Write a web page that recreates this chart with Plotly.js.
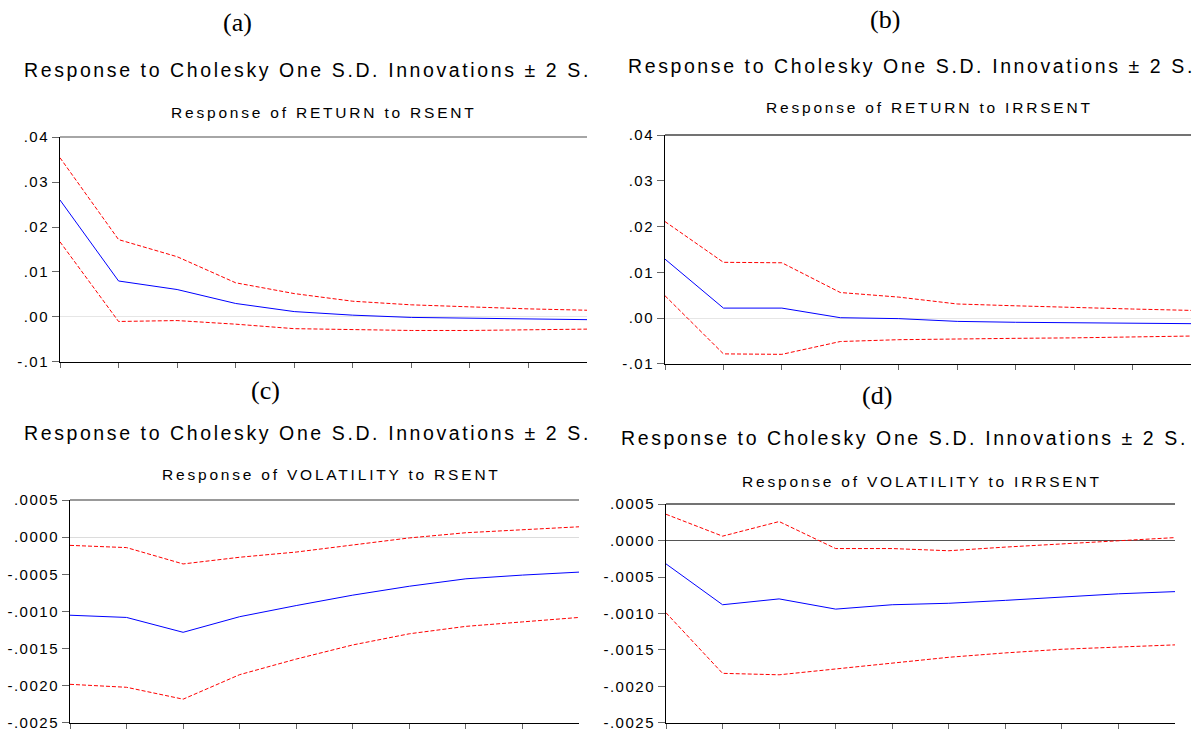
<!DOCTYPE html>
<html>
<head>
<meta charset="utf-8">
<script src="https://cdn.plot.ly/plotly-3.0.1.min.js"></script>
<style>html,body{margin:0;padding:0;background:#fff;}#chart{width:1200px;height:733px;}</style>
</head>
<body>
<div id="chart"></div>
<script>
// Periods
const periods = [1, 2, 3, 4, 5, 6, 7, 8, 9, 10];

// (a) Response of RETURN to RSENT
const aResp  = [0.0260, 0.0080, 0.0061, 0.0030, 0.0012, 0.0004, -0.0001, -0.0003, -0.0004, -0.0006];
const aUpper = [0.0354, 0.0172, 0.0134, 0.0076, 0.0052, 0.0035, 0.0027, 0.0022, 0.0018, 0.0015];
const aLower = [0.0167, -0.0010, -0.0008, -0.0016, -0.0026, -0.0028, -0.0030, -0.0030, -0.0028, -0.0027];

// (b) Response of RETURN to IRRSENT
const bResp  = [0.0129, 0.0022, 0.0022, 0.0001, -0.0001, -0.0007, -0.0009, -0.0010, -0.0011, -0.0012];
const bUpper = [0.0211, 0.0122, 0.0121, 0.0056, 0.0046, 0.0031, 0.0027, 0.0023, 0.0020, 0.0017];
const bLower = [0.0049, -0.0078, -0.0079, -0.0051, -0.0047, -0.0045, -0.0044, -0.0043, -0.0041, -0.0039];

// (c) Response of VOLATILITY to RSENT
const cResp  = [-0.00105, -0.00108, -0.00128, -0.00107, -0.00092, -0.00078, -0.00066, -0.00056, -0.00051, -0.00047];
const cUpper = [-0.00011, -0.00014, -0.00036, -0.00027, -0.00020, -0.00010, -0.00001, 0.00006, 0.00010, 0.00014];
const cLower = [-0.00198, -0.00202, -0.00218, -0.00185, -0.00164, -0.00145, -0.00130, -0.00120, -0.00114, -0.00108];

// (d) Response of VOLATILITY to IRRSENT
const dResp  = [-0.00032, -0.00088, -0.00080, -0.00094, -0.00088, -0.00086, -0.00082, -0.00077, -0.00073, -0.00070];
const dUpper = [0.00036, 0.00006, 0.00026, -0.00011, -0.00011, -0.00014, -0.00009, -0.00005, 0.00000, 0.00004];
const dLower = [-0.00099, -0.00182, -0.00184, -0.00176, -0.00168, -0.00160, -0.00154, -0.00149, -0.00146, -0.00143];

// Tick labels
const retTickVals = [-0.01, 0.00, 0.01, 0.02, 0.03, 0.04];
const retTickText = ['-.01', '.00', '.01', '.02', '.03', '.04'];
const volTickVals = [-0.0025, -0.0020, -0.0015, -0.0010, -0.0005, 0.0000, 0.0005];
const volTickText = ['-.0025', '-.0020', '-.0015', '-.0010', '-.0005', '.0000', '.0005'];
const xTickVals = [1, 2, 3, 4, 5, 6, 7, 8, 9];

// Titles
const panelLabels = ['(a)', '(b)', '(c)', '(d)'];
const mainTitle = 'Response to Cholesky One S.D. Innovations \u00b1 2 S.';
const subTitles = ['Response of RETURN to RSENT', 'Response of RETURN to IRRSENT',
                   'Response of VOLATILITY to RSENT', 'Response of VOLATILITY to IRRSENT'];

const W = 1200, H = 733;
const px = v => v / W;
const py = v => 1 - v / H;

const BLUE = '#0000ff', RED = '#ff0000';
const SANS = 'Liberation Sans, Arial, sans-serif';

const spaced = (s, ls) => '<span style="letter-spacing:' + ls + 'px">' + s + '</span>';

function traces(resp, up, lo, xa, ya) {
  return [
    {x: periods, y: up, xaxis: xa, yaxis: ya, mode: 'lines', line: {color: RED, width: 1, dash: '4px,2px'}, hoverinfo: 'skip'},
    {x: periods, y: lo, xaxis: xa, yaxis: ya, mode: 'lines', line: {color: RED, width: 1, dash: '4px,2px'}, hoverinfo: 'skip'},
    {x: periods, y: resp, xaxis: xa, yaxis: ya, mode: 'lines', line: {color: BLUE, width: 1}, hoverinfo: 'skip'}
  ];
}

const data = [].concat(
  traces(aResp, aUpper, aLower, 'x', 'y'),
  traces(bResp, bUpper, bLower, 'x2', 'y2'),
  traces(cResp, cUpper, cLower, 'x3', 'y3'),
  traces(dResp, dUpper, dLower, 'x4', 'y4')
);

const tickFont = {family: SANS, size: 15, color: '#000'};

function xax(l, r, anchor) {
  return {domain: [px(l), px(r)], range: [1, 10], anchor: anchor,
    showgrid: false, zeroline: false, showline: true, linecolor: '#000', linewidth: 1,
    ticks: 'outside', ticklen: 5, tickcolor: '#666', tickvals: xTickVals, showticklabels: false, fixedrange: true};
}
function yax(t, b, anchor, range, vals, text, zc) {
  return {domain: [py(b), py(t)], range: range, anchor: anchor,
    showgrid: false, zeroline: true, zerolinecolor: zc, zerolinewidth: 1,
    showline: true, linecolor: '#000', linewidth: 1,
    ticks: 'outside', ticklen: 7, tickcolor: '#666', tickvals: vals,
    ticktext: text.map(s => spaced(s, 1.5)), ticklabeloverflow: 'allow',
    tickfont: tickFont, fixedrange: true};
}

const panels = [
  {xa: 'x', ya: 'y', topColor: '#888'},
  {xa: 'x2', ya: 'y2', topColor: '#444'},
  {xa: 'x3', ya: 'y3', topColor: '#777'},
  {xa: 'x4', ya: 'y4', topColor: '#444'}
];

const shapes = panels.map(p => ({type: 'line', xref: p.xa + ' domain', yref: p.ya + ' domain',
  x0: 0, x1: 1, y0: 1, y1: 1, line: {color: p.topColor, width: 1.5}}));

const labelPos = [[237, 22], [885, 20], [265, 390], [877, 395]];
const titlePos = [[307, 70], [911, 66], [307, 433], [904, 438]];
const subPos = [[324, 112], [929, 108], [331, 474], [922, 481]];

const annotations = [];
for (let i = 0; i < 4; i++) {
  annotations.push({text: panelLabels[i], xref: 'paper', yref: 'paper', x: px(labelPos[i][0]), y: py(labelPos[i][1]),
    xanchor: 'center', yanchor: 'middle', showarrow: false,
    font: {family: 'Liberation Serif, Times New Roman, serif', size: 26, color: '#000'}});
  annotations.push({text: spaced(mainTitle, 2.6), xref: 'paper', yref: 'paper', x: px(titlePos[i][0]), y: py(titlePos[i][1]),
    xanchor: 'center', yanchor: 'middle', showarrow: false,
    font: {family: SANS, size: 19.5, color: '#000'}});
  annotations.push({text: spaced(subTitles[i], 2.8), xref: 'paper', yref: 'paper', x: px(subPos[i][0]), y: py(subPos[i][1]),
    xanchor: 'center', yanchor: 'middle', showarrow: false,
    font: {family: SANS, size: 15.5, color: '#000'}});
}

const layout = {
  width: W, height: H, margin: {l: 0, r: 0, t: 0, b: 0},
  paper_bgcolor: '#fff', plot_bgcolor: '#fff', showlegend: false,
  xaxis: xax(60, 587, 'y'),
  yaxis: yax(137, 362, 'x', [-0.01001, 0.04001], retTickVals, retTickText, '#e6e6e6'),
  xaxis2: xax(665, 1191, 'y2'),
  yaxis2: yax(135, 364, 'x2', [-0.01001, 0.04001], retTickVals, retTickText, '#e6e6e6'),
  xaxis3: xax(70, 579, 'y3'),
  yaxis3: yax(500, 723, 'x3', [-0.0025005, 0.0005005], volTickVals, volTickText, '#dcdcdc'),
  xaxis4: xax(666, 1175, 'y4'),
  yaxis4: yax(504, 723, 'x4', [-0.0025005, 0.0005005], volTickVals, volTickText, '#555'),
  shapes: shapes,
  annotations: annotations
};

Plotly.newPlot('chart', data, layout, {staticPlot: true, displayModeBar: false});
</script>
</body>
</html>
